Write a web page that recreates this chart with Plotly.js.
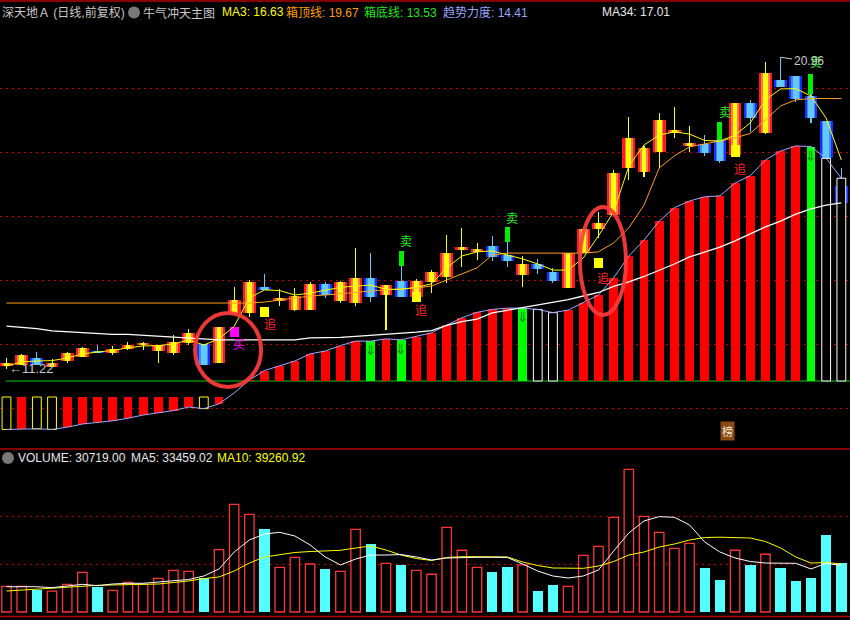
<!DOCTYPE html>
<html><head><meta charset="utf-8">
<script src="https://cdn.plot.ly/plotly-3.0.1.min.js"></script>
<style>html,body{margin:0;padding:0;background:#000}#chart{width:850px;height:620px}</style>
</head><body><div id="chart"></div>
<script>
// ---------- price data (OHLC) ----------
const openP  = [11.32,11.34,11.56,11.29,11.47,11.60,11.79,11.71,11.83,11.96,11.79,11.73,12.02,12.00,11.42,12.96,12.96,13.77,13.35,13.06,13.06,13.88,13.35,13.29,14.06,13.53,13.97,13.48,13.94,14.10,14.94,14.88,15.06,14.78,14.16,14.50,14.26,13.74,14.83,15.58,16.03,17.51,17.38,18.01,18.58,18.19,18.26,18.38,17.91,19.54,18.60,20.25,20.38,19.75,18.97,16.94];
const highP  = [11.56,11.69,11.75,11.52,11.75,11.92,11.97,11.95,12.06,12.06,11.97,12.28,12.46,12.00,12.54,13.77,14.00,14.19,13.71,13.74,13.95,13.95,13.97,14.99,14.85,13.83,14.44,14.03,14.31,15.41,15.62,15.15,15.38,15.20,14.75,14.65,14.37,14.83,15.62,16.13,17.44,19.08,18.19,19.23,19.42,18.81,18.53,18.38,19.54,19.63,20.80,20.96,20.38,19.81,18.97,17.50];
const lowP   = [11.22,11.33,11.35,11.27,11.40,11.58,11.73,11.67,11.81,11.81,11.40,11.66,11.97,11.34,11.42,12.92,12.85,13.69,13.19,13.03,13.06,13.44,13.29,13.19,13.32,12.44,13.48,13.48,13.60,13.92,14.42,14.63,14.60,14.41,13.79,14.19,13.90,13.74,14.83,15.30,16.00,17.13,17.23,17.49,18.43,18.01,17.88,17.67,17.91,18.63,18.56,20.04,19.57,18.92,17.75,16.41];
const closeP = [11.42,11.66,11.35,11.42,11.72,11.88,11.73,11.84,11.97,12.02,11.97,12.06,12.35,11.34,12.54,13.38,13.95,13.69,13.45,13.50,13.88,13.53,13.94,14.06,13.48,13.83,13.48,13.97,14.26,14.85,15.04,14.98,14.73,14.59,14.50,14.34,13.98,14.83,15.58,15.77,17.34,18.45,18.13,19.00,18.69,18.28,17.98,17.73,19.54,19.07,20.48,20.04,19.66,19.07,17.81,16.41];

// ---------- indicator lines ----------
const ma3     = [11.31,11.44,11.47,11.48,11.56,11.69,11.75,11.80,11.88,11.94,11.95,12.00,12.13,11.97,12.16,12.55,13.44,13.69,13.67,13.53,13.59,13.69,13.77,13.81,13.84,13.71,13.71,13.77,13.88,14.38,14.75,14.88,14.91,14.78,14.66,14.50,14.31,14.31,14.69,15.38,16.13,17.56,18.22,18.53,18.63,18.56,18.36,18.34,18.53,18.91,19.63,19.97,19.98,19.75,19.06,17.75];
const boxTop  = [13.28,13.28,13.28,13.28,13.28,13.28,13.28,13.28,13.28,13.28,13.28,13.28,13.28,13.28,13.28,13.28,13.28,13.31,13.38,13.44,13.50,13.53,13.56,13.61,13.66,13.69,13.72,13.75,13.81,14.00,14.20,14.38,14.78,14.84,14.84,14.84,14.84,14.84,14.84,14.88,15.16,15.63,16.34,17.50,17.88,18.16,18.25,18.34,18.44,18.58,19.00,19.44,19.63,19.67,19.67,19.67];
const ma34    = [12.56,12.52,12.48,12.41,12.38,12.37,12.33,12.30,12.30,12.27,12.24,12.20,12.18,12.14,12.13,12.13,12.13,12.13,12.13,12.13,12.19,12.19,12.21,12.24,12.27,12.30,12.33,12.37,12.42,12.58,12.70,12.78,12.97,13.05,13.13,13.22,13.29,13.39,13.50,13.61,13.80,13.94,14.11,14.30,14.50,14.72,14.88,15.03,15.22,15.44,15.66,15.84,16.06,16.22,16.34,16.41];
const trend   = [9.33,9.35,9.35,9.33,9.40,9.50,9.55,9.60,9.68,9.78,9.85,9.92,10.03,9.98,10.13,10.47,10.875,11.17,11.32,11.47,11.69,11.78,11.95,12.09,12.09,12.16,12.13,12.23,12.35,12.59,12.82,12.99,13.08,13.12,13.12,13.08,12.98,13.06,13.29,13.53,14.07,14.75,15.25,15.84,16.26,16.47,16.60,16.63,17.03,17.26,17.75,18.03,18.19,18.17,17.80,17.18];
// Y = hollow yellow, R = red, G = green, W = hollow white, - = none
const trendKind = ['Y','R','Y','Y','R','R','R','R','R','R','R','R','R','Y','R','-','R','R','R','R','R','R','R','R','G','R','G','R','R','R','R','R','R','R','G','W','W','R','R','R','R','R','R','R','R','R','R','R','R','R','R','R','R','G','W','W'];

// ---------- volume ----------
const volume  = [16000,16000,13750,13100,17300,24800,15600,13500,18500,17300,21000,26000,25400,21250,39000,67300,61000,51900,27900,34200,30000,26900,25400,51700,42500,30400,29400,26000,23600,52900,38600,27900,25000,28100,29400,13100,16900,16000,35400,41000,59200,89200,59800,49800,39800,42900,27500,20000,38600,29400,36100,27500,19400,21250,48100,30719];
const volMA5  = [15800,15800,15800,15200,16250,17300,16440,17500,17940,17940,18750,19375,20300,22500,26900,37500,45000,48750,49800,47500,41900,34400,29400,33100,35600,35600,35900,34400,32500,33750,34200,34200,34200,34060,30000,25600,22500,21250,22500,26250,38100,49400,56900,59600,59200,54400,43750,37500,33750,31560,30600,30440,30440,26900,30440,29060];
const volMA10 = [13100,13750,14250,15000,15600,16250,16690,16900,17000,17200,17500,18440,19400,20900,21900,25600,30600,34400,35900,37200,37800,38400,38560,40000,41250,38750,35600,33440,32200,34060,34560,34560,34560,34400,31250,29060,27500,27300,27300,28750,31560,35600,37500,40600,42500,45000,46560,46750,46690,46250,44060,40000,34400,30600,30940,30000];

// ---------- signals ----------
const chaseIdx = [17,27,39,48];
const chaseSqTop = [13.16,13.625,14.69,18.22];
const chaseSqBottom = [12.84,13.31,14.375,17.84];
const chaseTextY = [12.625,13.0625,14.09,17.47];
const buyIdx = [15];
const buySqTop = [12.54];
const buySqBottom = [12.23];
const buyTextY = [12.0];
const sellIdx = [26,33,47,53];
const sellBarTop = [14.91,15.67,18.95,20.44];
const sellTextY = [15.22,15.95,19.28,20.84];

// ---------- header values ----------
const stockName = '深天地Ａ (日线,前复权)';
const indicatorName = '牛气冲天主图';
const hdrMA3 = 16.63, hdrBoxTop = 19.67, hdrBoxBottom = 13.53, hdrTrend = 14.41, hdrMA34 = 17.01;
const hdrVol = 30719.00, hdrVolMA5 = 33459.02, hdrVolMA10 = 39260.92;

// ---------- build ----------
const idx = closeP.map((_, i) => i);
const isUp = i => closeP[i] >= openP[i];
const LOW_BASE = 10.34375, HIGH_BASE = 10.84375;
const traces = [];

function wick(filter, color) {
  const xs = [], b = [], h = [];
  idx.forEach(i => { if (filter(i)) { xs.push(i); b.push(lowP[i]); h.push(highP[i] - lowP[i]); } });
  return {type:'bar', x:xs, y:h, base:b, width:0.07, marker:{color:color, line:{width:0}}, hoverinfo:'skip'};
}
function body(filter, w, color) {
  const xs = [], b = [], h = [];
  idx.forEach(i => { if (filter(i)) {
    const lo = Math.min(openP[i], closeP[i]), hi = Math.max(openP[i], closeP[i]);
    xs.push(i); b.push(lo); h.push(Math.max(hi - lo, 0.035)); } });
  return {type:'bar', x:xs, y:h, base:b, width:w, marker:{color:color, line:{width:0}}, hoverinfo:'skip'};
}
traces.push(wick(isUp, '#ffff00'));
traces.push(wick(i => !isUp(i), '#5cc8ff'));
traces.push(body(isUp, 0.84, '#ff1a1a'));
traces.push(body(isUp, 0.56, '#ff7a5a'));
traces.push(body(isUp, 0.31, '#ffff00'));
traces.push(body(i => !isUp(i), 0.84, '#1a2cff'));
traces.push(body(i => !isUp(i), 0.58, '#3a8cff'));
traces.push(body(i => !isUp(i), 0.42, '#62c8ff'));

// trend histogram
function ind(kind, fill, line) {
  const xs = [], b = [], h = [];
  idx.forEach(i => { if (trendKind[i] === kind) {
    const base = trend[i] < LOW_BASE ? LOW_BASE : HIGH_BASE;
    xs.push(i); b.push(base); h.push(trend[i] - base); } });
  return {type:'bar', x:xs, y:h, base:b, width:0.58, marker:{color:fill, line:{width: line ? 1 : 0, color: line || fill}}, hoverinfo:'skip'};
}
traces.push(ind('R', '#ff0000', null));
traces.push(ind('G', '#00ff00', null));
traces.push(ind('Y', '#000000', '#ffff00'));
traces.push(ind('W', '#000000', '#ffffff'));

// signal blocks
traces.push({type:'bar', x:chaseIdx, base:chaseSqBottom, y:chaseIdx.map((_, k) => chaseSqTop[k] - chaseSqBottom[k]), width:0.6, marker:{color:'#ffff00', line:{width:0}}, hoverinfo:'skip'});
traces.push({type:'bar', x:buyIdx, base:buySqBottom, y:buyIdx.map((_, k) => buySqTop[k] - buySqBottom[k]), width:0.6, marker:{color:'#ff00ff', line:{width:0}}, hoverinfo:'skip'});
traces.push({type:'bar', x:sellIdx, base:sellIdx.map(i => highP[i]), y:sellIdx.map((i, k) => sellBarTop[k] - highP[i]), width:0.33, marker:{color:'#00ee00', line:{width:0}}, hoverinfo:'skip'});

// lines
const ln = (y, color, w) => ({type:'scatter', mode:'lines', x:idx, y:y, line:{color:color, width:w}, hoverinfo:'skip'});
traces.push(ln(boxTop, '#ffa020', 1));
traces.push(ln(ma3, '#ffff00', 1));
traces.push(ln(trend, '#a3a9ff', 1));
traces.push(ln(ma34, '#ffffff', 1.3));

// volume
const volUp = idx.filter(isUp), volDn = idx.filter(i => !isUp(i));
traces.push({type:'bar', xaxis:'x', yaxis:'y2', x:volUp, y:volUp.map(i => volume[i]), width:0.62, marker:{color:'#000000', line:{color:'#ff3535', width:1.3}}, hoverinfo:'skip'});
traces.push({type:'bar', xaxis:'x', yaxis:'y2', x:volDn, y:volDn.map(i => volume[i]), width:0.69, marker:{color:'#55ffff', line:{width:0}}, hoverinfo:'skip'});
traces.push({type:'scatter', mode:'lines', xaxis:'x', yaxis:'y2', x:idx, y:volMA10, line:{color:'#ffff00', width:1}, hoverinfo:'skip'});
traces.push({type:'scatter', mode:'lines', xaxis:'x', yaxis:'y2', x:idx, y:volMA5, line:{color:'#ffffff', width:1}, hoverinfo:'skip'});

// ---------- annotations ----------
const FONT = 'Liberation Sans, Arial, Noto Sans CJK SC, sans-serif';
const CJK = 'Noto Sans CJK SC, sans-serif';
const W = 850, H = 620;
const hdr = (px, py, text, color, size, fam) => ({xref:'paper', yref:'paper', x:px / W, y:1 - py / H, xanchor:'left', yanchor:'middle', text:text, showarrow:false, font:{family:fam || FONT, size:size || 12, color:color}, borderpad:0});
const annotations = [
  hdr(1, 12, stockName, '#c8c8c8'),
  hdr(142, 12, indicatorName, '#c8c8c8', 12, CJK),
  hdr(221, 12, 'MA3: ' + hdrMA3.toFixed(2), '#ffff00'),
  hdr(285, 12, '箱顶线: ' + hdrBoxTop.toFixed(2), '#ff9f00'),
  hdr(363, 12, '箱底线: ' + hdrBoxBottom.toFixed(2), '#1ee81e'),
  hdr(442, 12, '趋势力度: ' + hdrTrend.toFixed(2), '#9aa4ff'),
  hdr(601, 12, 'MA34: ' + hdrMA34.toFixed(2), '#e8e8e8'),
  hdr(17, 458, 'VOLUME: ' + hdrVol.toFixed(2), '#e8e8e8'),
  hdr(130, 458, 'MA5: ' + hdrVolMA5.toFixed(2), '#e8e8e8'),
  hdr(216, 458, 'MA10: ' + hdrVolMA10.toFixed(2), '#ffff00'),
  {xref:'paper', yref:'paper', x:134 / W, y:1 - 12.5 / H, text:'⌄', showarrow:false, font:{family:'DejaVu Sans', size:10, color:'#1a1a1a'}, yshift:2},
  {xref:'paper', yref:'paper', x:8 / W, y:1 - 458 / H, text:'⌄', showarrow:false, font:{family:'DejaVu Sans', size:10, color:'#1a1a1a'}, yshift:2},
  {xref:'paper', yref:'paper', x:734.5 / W, y:1 - 441 / H, text:'榜', showarrow:false, bgcolor:'#8a4a12', borderpad:1, font:{family:CJK, size:11, color:'#f2e6d8'}}
];
chaseIdx.forEach((i, k) => annotations.push({x:i, y:chaseTextY[k], xshift:5, text:'追', showarrow:false, font:{family:CJK, size:12, color:'#ff2222'}}));
buyIdx.forEach((i, k) => annotations.push({x:i, y:buyTextY[k], xshift:5, text:'买', showarrow:false, font:{family:CJK, size:12, color:'#ff00ff'}}));
sellIdx.forEach((i, k) => annotations.push({x:i, y:sellTextY[k], xshift:5, text:'卖', showarrow:false, font:{family:CJK, size:12, color:'#22ee22'}}));
idx.forEach(i => { if (trendKind[i] === 'G') annotations.push({x:i, y:trend[i], yanchor:'top', text:'⇓', showarrow:false, font:{family:'DejaVu Sans', size:14, color:'#0b8a0b'}, borderpad:0}); });
// extreme labels
const hiVal = Math.max(...highP), hiIdx = highP.indexOf(hiVal);
const loVal = Math.min(...lowP), loIdx = lowP.indexOf(loVal);
annotations.push({x:hiIdx, y:hiVal, ax:28, ay:4, text:hiVal.toFixed(2), showarrow:true, arrowhead:0, arrowwidth:1, arrowcolor:'#c8c8c8', standoff:0, font:{family:FONT, size:12, color:'#c8c8c8'}});
annotations.push({x:loIdx, y:loVal, xanchor:'left', yanchor:'middle', text:'←' + loVal.toFixed(2), showarrow:false, font:{family:FONT, size:13, color:'#c8c8c8'}});

// ---------- shapes ----------
const border = '#b40000';
const shapes = [
  {type:'line', xref:'paper', yref:'paper', x0:0, x1:1, y0:1 - 1 / H, y1:1 - 1 / H, line:{color:border, width:1.5}},
  {type:'line', xref:'paper', yref:'paper', x0:0, x1:1, y0:1 - 449 / H, y1:1 - 449 / H, line:{color:border, width:1.5}},
  {type:'line', xref:'paper', yref:'paper', x0:0, x1:1, y0:1 - 616.5 / H, y1:1 - 616.5 / H, line:{color:border, width:1.5}},
  {type:'line', xref:'x', yref:'y', x0:-0.03, x1:56, y0:HIGH_BASE, y1:HIGH_BASE, line:{color:'#00d000', width:1}, layer:'below'},
  {type:'circle', xref:'paper', yref:'paper', x0:128 / W, x1:140 / W, y0:1 - 18.5 / H, y1:1 - 6.5 / H, fillcolor:'#787878', line:{width:0}},
  {type:'circle', xref:'paper', yref:'paper', x0:2 / W, x1:14 / W, y0:1 - 464 / H, y1:1 - 452 / H, fillcolor:'#787878', line:{width:0}},
  {type:'circle', xref:'x', yref:'y', x0:12.42, x1:16.77, y0:10.66, y1:12.97, line:{color:'rgba(255,60,60,0.92)', width:4}},
  {type:'circle', xref:'x', yref:'y', x0:37.78, x1:40.81, y0:12.91, y1:16.28, line:{color:'rgba(255,60,60,0.92)', width:4}}
];

const layout = {
  width:850, height:620, margin:{l:0, r:0, t:0, b:0},
  paper_bgcolor:'#000000', plot_bgcolor:'#000000', showlegend:false,
  barmode:'overlay', bargap:0,
  xaxis:{range:[-0.428, 55.57], showticklabels:false, showgrid:false, zeroline:false, showline:false, ticks:'', fixedrange:true, anchor:'y'},
  yaxis:{domain:[172 / H, 618 / H], range:[8.75, 22.6875], tickvals:[10, 12, 14, 16, 18, 20], showticklabels:false, showgrid:true, gridcolor:'#c00000', griddash:'2px,4px', gridwidth:1, zeroline:false, showline:false, ticks:'', anchor:'x'},
  yaxis2:{domain:[4 / H, 170 / H], range:[-2500, 101250], tickvals:[30000, 60000], showticklabels:false, showgrid:true, gridcolor:'#c00000', griddash:'2px,4px', gridwidth:1, zeroline:false, showline:false, ticks:'', anchor:'x'},
  shapes:shapes, annotations:annotations
};
Plotly.newPlot('chart', traces, layout, {staticPlot:true, displayModeBar:false});
</script>
</body></html>
